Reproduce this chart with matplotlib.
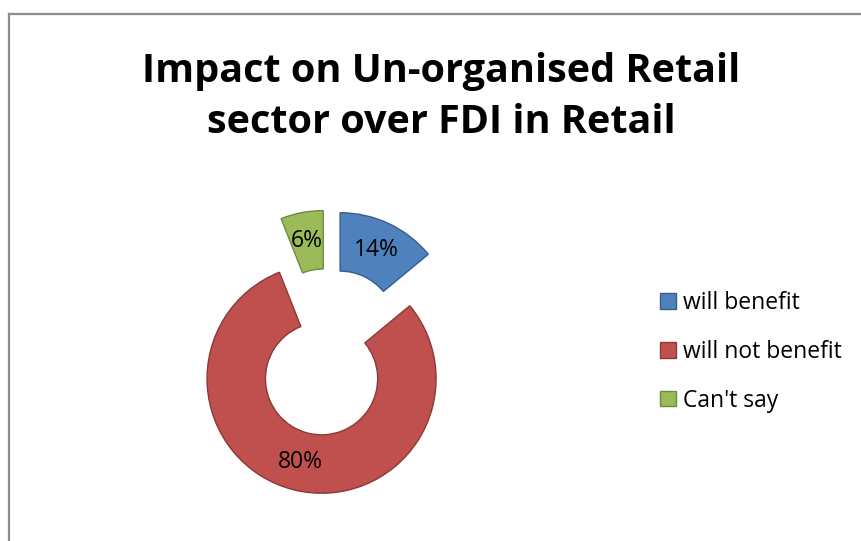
import matplotlib.pyplot as plt
from matplotlib.lines import Line2D

# Survey responses (%)
categories = ["will benefit", "will not benefit", "Can't say"]
shares = [14, 80, 6]
colors = ["#4F81BD", "#C0504D", "#9BBB59"]
edges = ["#385D8A", "#8C3836", "#71893F"]

W, H = 861, 541
fig = plt.figure(figsize=(W / 100, H / 100), dpi=100)
plt.rcParams["font.family"] = ["Open Sans", "DejaVu Sans"]

# chart frame (the outer border runs off the right/bottom edges)
fig.add_artist(Line2D([8.5 / W, 8.5 / W], [0, 1 - 13.5 / H], color="#8C8C8C", lw=1.6,
                      transform=fig.transFigure))
fig.add_artist(Line2D([8.5 / W, 1], [1 - 13.5 / H, 1 - 13.5 / H], color="#8C8C8C", lw=1.6,
                      transform=fig.transFigure))

# square axes centred on the doughnut
cx, cy, side = 328.4, 352.1, 343.5
ax = fig.add_axes([(cx - side / 2) / W, 1 - (cy + side / 2) / H, side / W, side / H])

wedges, _, pct = ax.pie(
    shares, colors=colors, startangle=90, counterclock=False,
    explode=[0.24] * 3, radius=1.0,
    autopct="%d%%", pctdistance=0.75,
    wedgeprops=dict(width=0.51, linewidth=1.0),
    textprops=dict(fontsize=16.5, color="black"),
)
for w, ec in zip(wedges, edges):
    w.set_edgecolor(ec)
ax.set_xlim(-1.5, 1.5)
ax.set_ylim(-1.5, 1.5)
ax.set_aspect("equal")

fig.text(441 / W, 1 - 97 / H, "Impact on Un-organised Retail\nsector over FDI in Retail",
         ha="center", va="center", fontsize=28.5, fontweight="bold", linespacing=1.42)

fig.legend(wedges, categories, loc="center left", bbox_to_anchor=(649 / W, 1 - 352 / H),
           frameon=False, fontsize=16.5, handlelength=0.66, handleheight=0.66,
           handletextpad=0.33, labelspacing=1.08, borderpad=0)

fig.savefig("out.png", dpi=100)
